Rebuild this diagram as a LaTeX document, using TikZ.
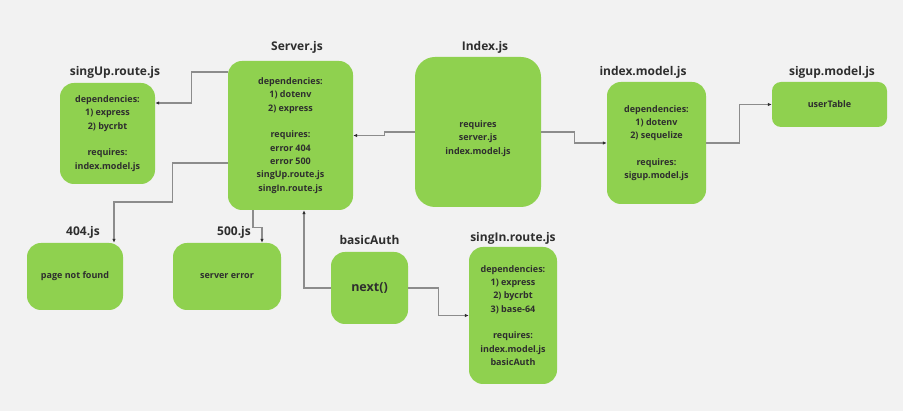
\documentclass[tikz,border=0pt]{standalone}
\usepackage{fontspec}
\setmainfont{Open Sans}
\usetikzlibrary{arrows.meta, positioning}
\definecolor{miro}{HTML}{8FD14F}
\definecolor{paper}{HTML}{F2F2F2}
\definecolor{wire}{HTML}{8C8C8C}
\definecolor{ink}{HTML}{2E2E2E}
\tikzstyle{box} = [fill=miro, rectangle, rounded corners=14pt, align=center, inner sep=0pt, text=ink, font=\bfseries\fontsize{9}{13.3}\selectfont]
\tikzstyle{title} = [text=ink, inner sep=0pt, font=\bfseries\fontsize{12}{14}\selectfont]
\tikzstyle{link} = [draw=wire, line width=1.1pt, ->]
\tikzset{wh/.style 2 args={minimum width=#1pt, minimum height=#2pt}}

\begin{document}
\begin{tikzpicture}[x=1pt, y=-1pt, >={Latex[length=4pt, width=3.5pt, color=ink]}, node distance=4pt]
  \fill[paper] (0,0) rectangle (903,411);
  \useasboundingbox (0,0) rectangle (903,411);
  % boxes
  \node[box, wh={125}{149}] (server) at (290.5,135.5) {dependencies:\\1) dotenv\\2) express\\[13.3pt]requires:\\error 404\\error 500\\singUp.route.js\\singIn.route.js};
  \node[box, wh={95}{101}] (singup) at (107.5,133.5) {dependencies:\\1) express\\2) bycrbt\\[13.3pt]requires:\\index.model.js};
  \node[box, wh={126}{150}, rounded corners=20pt,
        label={[align=center, text=ink, font=\bfseries\fontsize{9}{13.3}\selectfont, yshift=-6.5pt]center:{requires\\server.js\\index.model.js}}] (index) at (478,132) {};
  \node[box, wh={99}{122}] (imodel) at (656.5,143) {dependencies:\\1) dotenv\\2) sequelize\\[13.3pt]requires:\\sigup.model.js};
  \node[box, wh={115}{45}, rounded corners=9pt] (smodel) at (829.5,104.5) {userTable};
  \node[box, wh={96}{67}] (e404) at (75,276.5) {page not found};
  \node[box, wh={108}{67}] (e500) at (227,276.5) {server error};
  \node[box, wh={77}{72}, font=\bfseries\fontsize{12.5}{14}\selectfont] (auth) at (369.5,288) {next()};
  \node[box, wh={88}{137}] (singin) at (513,315.5) {dependencies:\\1) express\\2) bycrbt\\3) base-64\\[13.3pt]requires:\\index.model.js\\basicAuth};
  % titles
  \node[title, above=7pt of server, xshift=6.5pt] {Server.js};
  \node[title, above=4pt of singup, xshift=7.5pt] {singUp.route.js};
  \node[title, above=3pt of index, xshift=7pt] {Index.js};
  \node[title, above=3pt of imodel, xshift=-13.5pt] {index.model.js};
  \node[title, above=3pt of smodel, xshift=2.5pt] {sigup.model.js};
  \node[title, above=4pt of e404, xshift=8pt] {404.js};
  \node[title, above=4pt of e500, xshift=7pt] {500.js};
  \node[title, above=7pt of auth] {basicAuth};
  \node[title, above=2pt of singin] {singIn.route.js};
  % links
  \draw[link] ([yshift=63.5pt]server.west) -- ++(-36pt,0) |- ([yshift=30.5pt]singup.east);
  \draw[link] (index.west) -- ++(-30pt,0) |- (server.east);
  \draw[link] (index.east) -- ++(33pt,0) |- (imodel.west);
  \draw[link] (imodel.east) -- ++(33pt,0) |- (smodel.west);
  \draw[link] ([yshift=-27.5pt]server.west) -- ++(-55pt,0) -- ++(0,-39pt) -| ([xshift=39pt]e404.north);
  \draw[link] ([xshift=-37.5pt]server.south) -- ++(0,-17pt) -| ([xshift=35pt]e500.north);
  \draw[link] (auth.west) -| ([xshift=13.5pt]server.south);
  \draw[link] (auth.east) -- ++(30pt,0) |- (singin.west);
\end{tikzpicture}
\end{document}
